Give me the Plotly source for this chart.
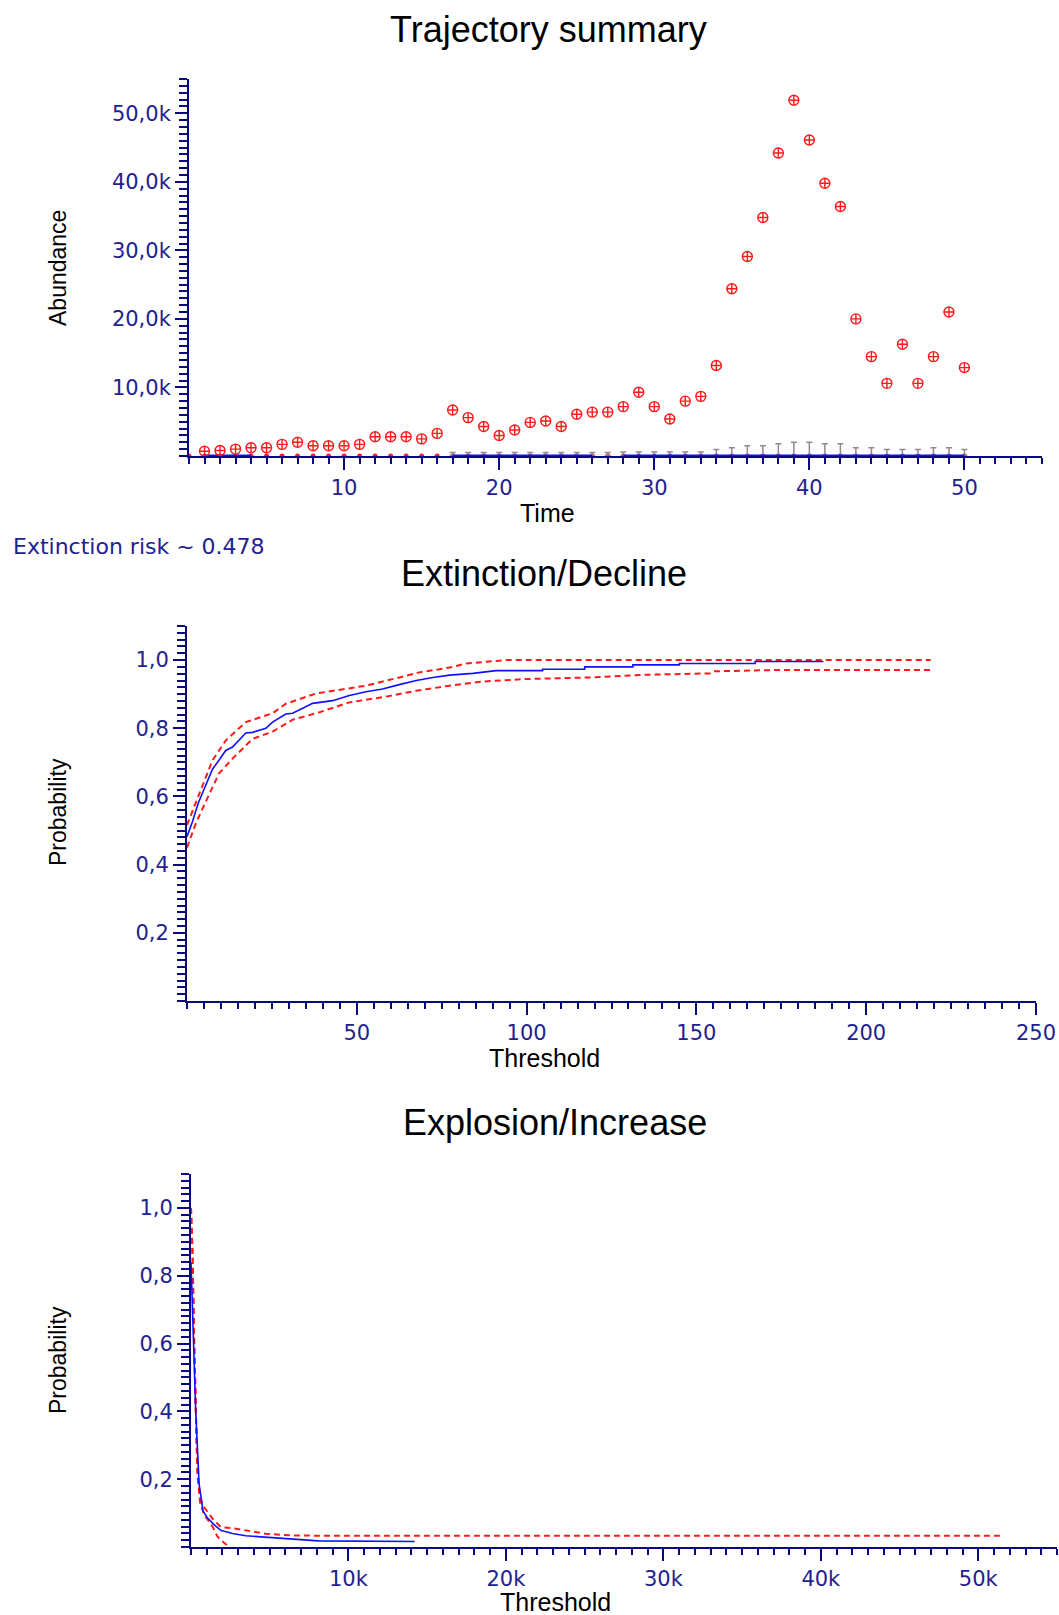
import plotly.graph_objects as go

W, H = 1059, 1615

# ---------------- data ----------------
time = list(range(1, 51))
upper_abund = [700, 800, 1000, 1200, 1200, 1700, 2000, 1500, 1500, 1500,
               1700, 2800, 2800, 2800, 2500, 3300, 6700, 5600, 4300, 3000,
               3800, 4900, 5100, 4300, 6100, 6400, 6400, 7200, 9300, 7200,
               5400, 8000, 8700, 13200, 24400, 29100, 34800, 44200, 51900, 46100,
               39800, 36400, 20000, 14500, 10600, 16300, 10600, 14500, 21000, 12900]
lower_time = list(range(0, 51))
lower_abund = [0] * 51
median_time = [1, 2, 3, 4, None, 17, 18, 19, 20, 21, 22, 23, 24, 25, 26, None,
               28, 29, 30, 31, 32, 33, 34, 35, 36, 37, 38, 39, 40, 41, 42, 43, 44,
               45, 46, 47, 48, 49, 50]
median_abund = [0 if v is not None else None for v in median_time]
sd_time = list(range(17, 51))
sd_center = [0] * 34
sd_plus = [500, 500, 500, 500, 500, 500, 500, 500, 500, 500, 500,
           600, 600, 600, 600, 600, 600,
           950, 1200, 1500, 1500, 1800, 2000, 2000, 1800, 1800, 1200, 1200,
           950, 950, 950, 1200, 1200, 950]

dec_x = [0, 1.6, 3.3, 5.3, 7.5, 9.4, 11.4, 13.4, 15.3, 17.3, 19.3, 23.2, 25.2, 29.1,
         31.1, 37, 42.9, 47.8, 52.7, 57.6, 62.5, 67.5, 72.4, 77.3, 84.2, 91, 98.7,
         104.7, 104.7, 117.1, 117.1, 131.3, 131.3, 145, 145, 167.3, 167.3, 187.4]
dec_p = [0.482, 0.526, 0.58, 0.628, 0.68, 0.706, 0.735, 0.745, 0.764, 0.786, 0.788,
         0.80, 0.818, 0.842, 0.844, 0.873, 0.881, 0.896, 0.907, 0.915, 0.928, 0.94,
         0.949, 0.956, 0.961, 0.969, 0.969,
         0.969, 0.973, 0.973, 0.98, 0.98, 0.986, 0.986, 0.99, 0.99, 0.996, 0.996]
dec_up_x = [0, 3.6, 7.5, 11.4, 17.3, 25.2, 29.1, 38, 42.9, 52.7, 62.5, 68.4, 77.3,
            82.2, 94, 219]
dec_up_p = [0.516, 0.61, 0.706, 0.764, 0.818, 0.844, 0.872, 0.902, 0.91, 0.925,
            0.949, 0.964, 0.978, 0.99, 1.0, 1.0]
dec_lo_x = [0, 2.6, 5.3, 9.4, 13.4, 19.3, 25.2, 31.1, 39, 47.8, 57.6, 67.5, 77.3,
            87.2, 98.7, 118.6, 135.3, 154, 155, 173.8, 219]
dec_lo_p = [0.45, 0.521, 0.58, 0.667, 0.711, 0.769, 0.79, 0.825, 0.847, 0.876,
            0.891, 0.91, 0.925, 0.937, 0.944, 0.949, 0.957, 0.961, 0.967, 0.971, 0.971]

inc_x = [0, 150, 300, 480, 500, 660, 760, 1040, 1460, 1890, 2630, 3480, 4100, 5400,
         8100, 14200]
inc_p = [0.84, 0.6, 0.4, 0.222, 0.19, 0.14, 0.106, 0.086, 0.066, 0.049, 0.04, 0.033,
         0.031, 0.025, 0.018, 0.016]
inc_up_x = [0, 100, 200, 300, 400, 580, 830, 1360, 1890, 2850, 4750, 6450, 9000, 51600]
inc_up_p = [1.0, 0.87, 0.62, 0.4, 0.24, 0.143, 0.118, 0.084, 0.059, 0.054, 0.039,
            0.034, 0.033, 0.033]
inc_lo_x = [0, 100, 200, 300, 400, 580, 840, 1370, 1680, 1900, 2300]
inc_lo_p = [1.0, 0.85, 0.6, 0.38, 0.22, 0.13, 0.095, 0.06, 0.031, 0.02, 0.005]

top_xticks = [10, 20, 30, 40, 50]
top_yticks = [10000, 20000, 30000, 40000, 50000]
top_yticklabels = ["10,0k", "20,0k", "30,0k", "40,0k", "50,0k"]
dec_xticks = [50, 100, 150, 200, 250]
prob_ticks = [0.2, 0.4, 0.6, 0.8, 1.0]
prob_ticklabels = ["0,2", "0,4", "0,6", "0,8", "1,0"]
inc_xticks = [10000, 20000, 30000, 40000, 50000]
inc_xticklabels = ["10k", "20k", "30k", "40k", "50k"]

# ---------------- style ----------------
NAVY = "#0a0a80"
TICKTXT = "#22228f"
RED = "#ff1a1a"
BLUE = "#1010ff"
TICKFONT = dict(family="DejaVu Sans", size=21, color=TICKTXT)


def px_x(p):
    return p / W


def px_y(p):
    return 1 - p / H


fig = go.Figure()

# --- Trajectory summary ---
fig.add_trace(go.Scatter(x=lower_time, y=lower_abund, mode="markers",
                         marker=dict(symbol="circle", size=5, color=RED),
                         cliponaxis=False, xaxis="x", yaxis="y", showlegend=False))
fig.add_trace(go.Scatter(x=sd_time, y=sd_center, mode="markers",
                         marker=dict(size=1, color="rgba(0,0,0,0)"),
                         error_y=dict(type="data", symmetric=False, array=sd_plus,
                                      arrayminus=[0] * len(sd_plus),
                                      color="#8c8c8c", thickness=1.5, width=3),
                         cliponaxis=False, xaxis="x", yaxis="y", showlegend=False))
fig.add_trace(go.Scatter(x=median_time, y=median_abund, mode="lines",
                         line=dict(color=BLUE, width=3), connectgaps=False,
                         cliponaxis=False, xaxis="x", yaxis="y", showlegend=False))
fig.add_trace(go.Scatter(x=time, y=upper_abund, mode="markers",
                         marker=dict(symbol="circle-cross-open", size=10,
                                     color=RED, line=dict(width=1.4, color=RED)),
                         cliponaxis=False, xaxis="x", yaxis="y", showlegend=False))

# --- Extinction/Decline ---
dash = "6px,4px"
fig.add_trace(go.Scatter(x=dec_up_x, y=dec_up_p, mode="lines",
                         line=dict(color=RED, width=2, dash=dash),
                         xaxis="x2", yaxis="y2", showlegend=False))
fig.add_trace(go.Scatter(x=dec_lo_x, y=dec_lo_p, mode="lines",
                         line=dict(color=RED, width=2, dash=dash),
                         xaxis="x2", yaxis="y2", showlegend=False))
fig.add_trace(go.Scatter(x=dec_x, y=dec_p, mode="lines",
                         line=dict(color=BLUE, width=1.6),
                         xaxis="x2", yaxis="y2", showlegend=False))

# --- Explosion/Increase ---
fig.add_trace(go.Scatter(x=inc_up_x, y=inc_up_p, mode="lines",
                         line=dict(color=RED, width=2, dash=dash),
                         cliponaxis=False, xaxis="x3", yaxis="y3", showlegend=False))
fig.add_trace(go.Scatter(x=inc_lo_x, y=inc_lo_p, mode="lines",
                         line=dict(color=RED, width=2, dash=dash),
                         cliponaxis=False, xaxis="x3", yaxis="y3", showlegend=False))
fig.add_trace(go.Scatter(x=inc_x, y=inc_p, mode="lines",
                         line=dict(color=BLUE, width=1.6),
                         cliponaxis=False, xaxis="x3", yaxis="y3", showlegend=False))


def xaxis(domain, rng, tickvals, ticktext, minor_dtick, anchor):
    return dict(domain=domain, range=rng, anchor=anchor, showgrid=False,
                automargin=False,
                zeroline=False, showline=True, linecolor=NAVY, linewidth=2,
                ticks="outside", ticklen=12, tickwidth=2, tickcolor=NAVY,
                tickmode="array", tickvals=tickvals, ticktext=ticktext,
                tickfont=TICKFONT,
                minor=dict(tickmode="linear", tick0=0, dtick=minor_dtick,
                           ticks="outside", ticklen=6, tickwidth=2,
                           tickcolor=NAVY, showgrid=False))


def yaxis(domain, rng, tickvals, ticktext, minor_dtick, anchor):
    return dict(domain=domain, range=rng, anchor=anchor, showgrid=False,
                automargin=False,
                zeroline=False, showline=True, linecolor=NAVY, linewidth=2,
                ticks="outside", ticklen=12, tickwidth=2, tickcolor=NAVY,
                tickmode="array", tickvals=tickvals, ticktext=ticktext,
                tickfont=TICKFONT,
                minor=dict(tickmode="linear", tick0=0, dtick=minor_dtick,
                           ticks="outside", ticklen=8, tickwidth=2,
                           tickcolor=NAVY, showgrid=False))


fig.update_layout(
    width=W, height=H, autosize=False,
    margin=dict(l=0, r=0, t=0, b=0, pad=0, autoexpand=False),
    paper_bgcolor="white", plot_bgcolor="white",
    xaxis=xaxis([px_x(189), px_x(1042)], [0, 55], top_xticks,
                [str(v) for v in top_xticks], 1, "y"),
    yaxis=yaxis([px_y(456), px_y(79)], [0, 55000], top_yticks, top_yticklabels,
                1000, "x"),
    xaxis2=xaxis([px_x(187), px_x(1036)], [0, 250], dec_xticks,
                 [str(v) for v in dec_xticks], 5, "y2"),
    yaxis2=yaxis([px_y(1001), px_y(626)], [0, 1.1], prob_ticks, prob_ticklabels,
                 0.02, "x2"),
    xaxis3=xaxis([px_x(191), px_x(1057)], [0, 55000], inc_xticks,
                 inc_xticklabels, 1000, "y3"),
    yaxis3=yaxis([px_y(1547), px_y(1174)], [0, 1.1], prob_ticks, prob_ticklabels,
                 0.02, "x3"),
)

TITLEFONT = dict(family="Liberation Sans", size=36, color="black")
AXFONT_H = dict(family="Liberation Sans", size=25, color="black")
AXFONT_V = dict(family="Liberation Sans", size=23, color="black")
annots = [
    ("Trajectory summary", 548, 29, TITLEFONT, 0),
    ("Extinction/Decline", 544, 573, TITLEFONT, 0),
    ("Explosion/Increase", 555, 1122, TITLEFONT, 0),
    ("Time", 547, 513, AXFONT_H, 0),
    ("Threshold", 544, 1058, AXFONT_H, 0),
    ("Threshold", 555, 1602, AXFONT_H, 0),
    ("Abundance", 58, 268, AXFONT_V, -90),
    ("Probability", 58, 812, AXFONT_V, -90),
    ("Probability", 58, 1360, AXFONT_V, -90),
]
for text, x, y, font, ang in annots:
    fig.add_annotation(text=text, x=px_x(x), y=px_y(y), xref="paper", yref="paper",
                       showarrow=False, font=font, textangle=ang,
                       xanchor="center", yanchor="middle")
fig.add_annotation(text="Extinction risk ~ 0.478", x=px_x(11), y=px_y(546),
                   xref="paper", yref="paper", showarrow=False,
                   font=dict(family="DejaVu Sans", size=22, color=TICKTXT),
                   xanchor="left", yanchor="middle")

fig.write_html("out.html", config={"responsive": False})
